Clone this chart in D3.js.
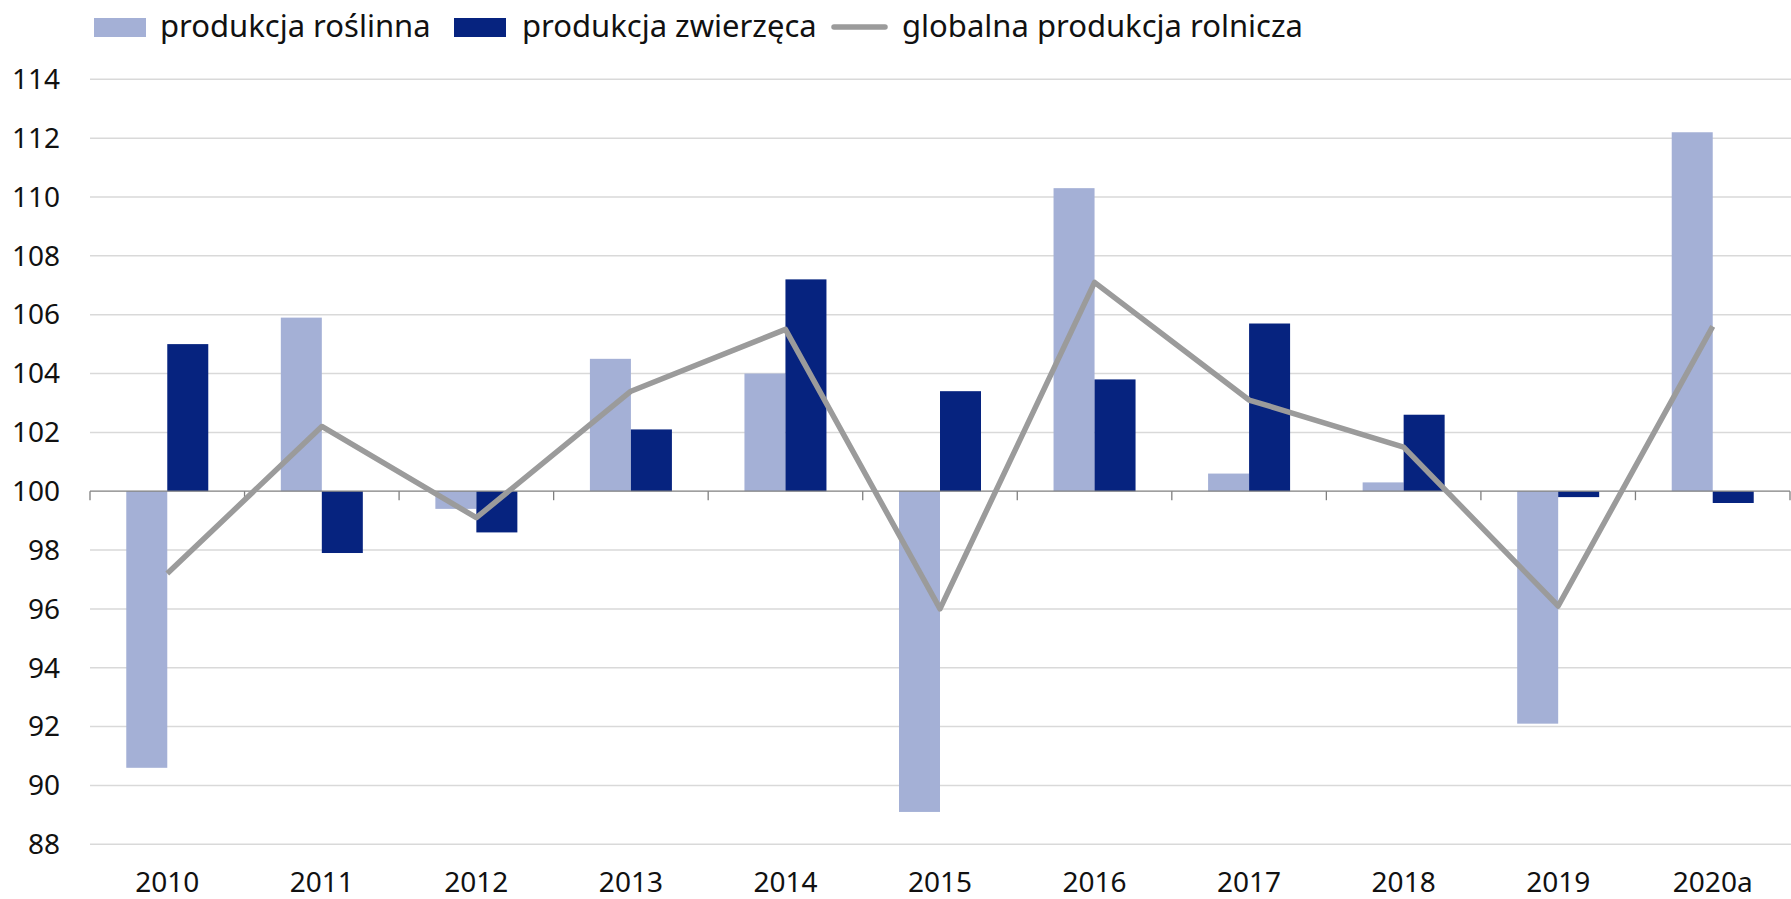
<!DOCTYPE html>
<html>
<head>
<meta charset="utf-8">
<script src="https://cdn.jsdelivr.net/npm/d3@7"></script>
<style>
  body { margin: 0; background: #fff; }
  text { font-family: "Noto Sans", "Open Sans", sans-serif; fill: #111; }
</style>
</head>
<body>
<svg id="chart" width="1791" height="899"></svg>
<script>
var width = 1791, height = 899

var years = ['2010', '2011', '2012', '2013', '2014', '2015', '2016', '2017', '2018', '2019', '2020a']
var roslinna = [90.6, 105.9, 99.4, 104.5, 104.0, 89.1, 110.3, 100.6, 100.3, 92.1, 112.2]
var zwierzeca = [105.0, 97.9, 98.6, 102.1, 107.2, 103.4, 103.8, 105.7, 102.6, 99.8, 99.6]
var globalna = [97.2, 102.2, 99.1, 103.4, 105.5, 96.0, 107.1, 103.1, 101.5, 96.1, 105.6]
var yTicks = [88, 90, 92, 94, 96, 98, 100, 102, 104, 106, 108, 110, 112, 114]
var seriesNames = ['produkcja roślinna', 'produkcja zwierzęca', 'globalna produkcja rolnicza']

var colLight = '#a4b0d6', colDark = '#06237f', colLine = '#9b9b9b'

var svg = d3.select('#chart')

var x = d3.scaleBand().domain(years).range([90, 1790]).padding(0)
var x1 = d3.scaleBand().domain(['r', 'z']).range([-41, 41])
var y = d3.scaleLinear().domain([88, 114]).range([844.3, 79.3])

// grid
svg.append('g')
  .selectAll('line')
  .data(yTicks.filter(function(d) { return d != 100 }))
  .enter().append('line')
  .attr('x1', 90).attr('x2', width)
  .attr('y1', function(d) { return y(d) }).attr('y2', function(d) { return y(d) })
  .style('stroke', '#d9d9d9').style('stroke-width', 1.5)

// y labels
svg.append('g')
  .selectAll('text')
  .data(yTicks)
  .enter().append('text')
  .attr('x', 60).attr('y', function(d) { return y(d) })
  .attr('dy', '0.35em')
  .attr('text-anchor', 'end')
  .style('font-size', '28px')
  .text(function(d) { return d })

// bars
function center(d) { return x(d) + x.bandwidth() / 2 }

svg.append('g')
  .selectAll('rect')
  .data(years)
  .enter().append('rect')
  .attr('x', function(d) { return center(d) + x1('r') })
  .attr('width', x1.bandwidth())
  .attr('y', function(d, i) { return y(Math.max(roslinna[i], 100)) })
  .attr('height', function(d, i) { return Math.abs(y(roslinna[i]) - y(100)) })
  .style('fill', colLight)

svg.append('g')
  .selectAll('rect')
  .data(years)
  .enter().append('rect')
  .attr('x', function(d) { return center(d) + x1('z') })
  .attr('width', x1.bandwidth())
  .attr('y', function(d, i) { return y(Math.max(zwierzeca[i], 100)) })
  .attr('height', function(d, i) { return Math.abs(y(zwierzeca[i]) - y(100)) })
  .style('fill', colDark)

// axis at 100
var axisG = svg.append('g').attr('transform', 'translate(0,' + y(100) + ')')
axisG.append('line').attr('x1', 90).attr('x2', 1790)
  .style('stroke', '#7f7f7f').style('stroke-width', 1.3)
axisG.selectAll('.tick')
  .data(years.concat(['end']))
  .enter().append('line')
  .attr('x1', function(d, i) { return 90 + i * x.step() })
  .attr('x2', function(d, i) { return 90 + i * x.step() })
  .attr('y1', 0).attr('y2', 9)
  .style('stroke', '#7f7f7f').style('stroke-width', 1.3)

// line
var line = d3.line()
  .x(function(d, i) { return center(years[i]) })
  .y(function(d) { return y(d) })

svg.append('path')
  .datum(globalna)
  .attr('d', line)
  .style('fill', 'none')
  .style('stroke', colLine)
  .style('stroke-width', 5.5)
  .style('stroke-linejoin', 'round')

// x labels
svg.append('g')
  .selectAll('text')
  .data(years)
  .enter().append('text')
  .attr('x', center)
  .attr('y', 892)
  .attr('text-anchor', 'middle')
  .style('font-size', '28px')
  .text(function(d) { return d })

// legend
var legend = svg.append('g')
legend.append('rect').attr('x', 94).attr('y', 18).attr('width', 52).attr('height', 19).style('fill', colLight)
legend.append('text').attr('x', 160).attr('y', 37).style('font-size', '31px').text(seriesNames[0])
legend.append('rect').attr('x', 454).attr('y', 18).attr('width', 52).attr('height', 19).style('fill', colDark)
legend.append('text').attr('x', 522).attr('y', 37).style('font-size', '31px').text(seriesNames[1])
legend.append('line').attr('x1', 834).attr('x2', 885).attr('y1', 27).attr('y2', 27)
  .style('stroke', colLine).style('stroke-width', 5.5).style('stroke-linecap', 'round')
legend.append('text').attr('x', 902).attr('y', 37).style('font-size', '31px').text(seriesNames[2])
</script>
</body>
</html>
